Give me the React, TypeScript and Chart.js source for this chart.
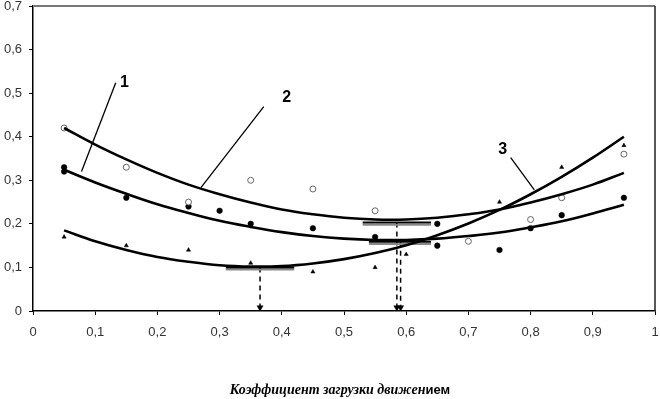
import React, { useEffect, useRef } from 'react';
import { Chart, registerables } from 'chart.js';
Chart.register(...registerables);

// Fitted curves
const curveX = [0.05, 0.1, 0.15, 0.2, 0.25, 0.3, 0.35, 0.4, 0.45, 0.5, 0.55, 0.6, 0.65, 0.7, 0.75, 0.8, 0.85, 0.9, 0.95];
const curve1 = [0.324, 0.295, 0.269, 0.245, 0.225, 0.207, 0.193, 0.181, 0.172, 0.166, 0.163, 0.163, 0.166, 0.172, 0.180, 0.192, 0.206, 0.224, 0.244];
const curve2 = [0.420, 0.382, 0.348, 0.317, 0.290, 0.268, 0.249, 0.233, 0.222, 0.214, 0.210, 0.210, 0.214, 0.222, 0.233, 0.249, 0.268, 0.290, 0.317];
const curve3 = [0.185, 0.160, 0.140, 0.124, 0.113, 0.105, 0.102, 0.103, 0.109, 0.119, 0.133, 0.151, 0.174, 0.201, 0.232, 0.268, 0.308, 0.352, 0.400];

// Measured points
const openX = [0.05, 0.15, 0.25, 0.35, 0.45, 0.55, 0.70, 0.80, 0.85, 0.95];
const openY = [0.42, 0.33, 0.25, 0.30, 0.28, 0.23, 0.16, 0.21, 0.26, 0.36];
const filledX = [0.05, 0.05, 0.15, 0.25, 0.30, 0.35, 0.45, 0.55, 0.65, 0.65, 0.75, 0.80, 0.85, 0.95];
const filledY = [0.32, 0.33, 0.26, 0.24, 0.23, 0.20, 0.19, 0.17, 0.20, 0.15, 0.14, 0.19, 0.22, 0.26];
const triX = [0.05, 0.15, 0.25, 0.35, 0.45, 0.55, 0.60, 0.75, 0.85, 0.95];
const triY = [0.17, 0.15, 0.14, 0.11, 0.09, 0.10, 0.13, 0.25, 0.33, 0.38];

// Minimum markers (horizontal bars) and dashed drop lines
const markerY = [0.100, 0.203, 0.159];
const markerX0 = [0.31, 0.53, 0.54];
const markerX1 = [0.42, 0.64, 0.64];
const dropX = [0.365, 0.585, 0.591];
const dropTop = [0.100, 0.203, 0.159];

// Curve labels and pointer lines
const labelText = ['1', '2', '3'];
const labelX = [0.147, 0.408, 0.755];
const labelY = [0.524, 0.49, 0.37];
const pointerX0 = [0.133, 0.371, 0.768];
const pointerY0 = [0.524, 0.469, 0.352];
const pointerX1 = [0.078, 0.270, 0.806];
const pointerY1 = [0.320, 0.283, 0.278];

const yTicks = [0, 0.1, 0.2, 0.3, 0.4, 0.5, 0.6, 0.7];
const titleMain = 'Коэффициент загрузки движен';
const titleTail = 'ием';

const fmt = (v: number) => {
  const r = Math.round(v * 10) / 10;
  if (r === 0) return '0';
  if (r === 1) return '1';
  return r.toFixed(1).replace('.', ',');
};

const pts = (xs: number[], ys: number[]) => xs.map((x, i) => ({ x, y: ys[i] }));

export default function App() {
  const ref = useRef<HTMLCanvasElement>(null);
  useEffect(() => {
    const canvas = ref.current!;
    const datasets: any[] = [];
    const curve = (ys: number[]) => ({
      data: pts(curveX, ys),
      showLine: true,
      borderColor: '#000',
      borderWidth: 2.6,
      pointRadius: 0,
      tension: 0.4,
      fill: false,
    });
    datasets.push(curve(curve1), curve(curve2), curve(curve3));
    datasets.push({
      data: pts(openX, openY),
      pointStyle: 'circle',
      pointRadius: 3,
      borderColor: '#666',
      backgroundColor: '#fff',
      borderWidth: 1,
    });
    datasets.push({
      data: pts(filledX, filledY),
      pointStyle: 'circle',
      pointRadius: 2.8,
      borderColor: '#000',
      backgroundColor: '#000',
      borderWidth: 0.5,
    });
    datasets.push({
      data: pts(triX, triY),
      pointStyle: 'triangle',
      pointRadius: 2.4,
      borderColor: '#000',
      backgroundColor: '#000',
      borderWidth: 0.5,
    });
    markerY.forEach((y, i) => {
      datasets.push({
        data: [{ x: markerX0[i], y }, { x: markerX1[i], y }],
        showLine: true,
        borderColor: '#000',
        borderWidth: 2,
        pointRadius: 0,
      });
      datasets.push({
        data: [{ x: markerX0[i], y: y - 0.005 }, { x: markerX1[i], y: y - 0.005 }],
        showLine: true,
        borderColor: '#888',
        borderWidth: 2,
        pointRadius: 0,
      });
    });
    dropX.forEach((x, i) => {
      datasets.push({
        data: [{ x, y: dropTop[i] }, { x, y: 0.008 }],
        showLine: true,
        borderColor: '#000',
        borderWidth: 1.5,
        borderDash: [5, 4],
        pointRadius: [0, 4],
        pointStyle: 'triangle',
        rotation: 180,
        pointBackgroundColor: '#000',
        pointBorderColor: '#000',
        pointBorderWidth: 0,
      });
    });
    labelText.forEach((_, i) => {
      datasets.push({
        data: [{ x: pointerX0[i], y: pointerY0[i] }, { x: pointerX1[i], y: pointerY1[i] }],
        showLine: true,
        borderColor: '#000',
        borderWidth: 1.3,
        pointRadius: 0,
      });
    });

    const framePlugin = {
      id: 'frame',
      afterDatasetsDraw(chart: any) {
        const { ctx, chartArea: a } = chart;
        ctx.save();
        ctx.strokeStyle = '#777';
        ctx.lineWidth = 2;
        ctx.beginPath();
        ctx.moveTo(a.left, a.top);
        ctx.lineTo(a.right, a.top);
        ctx.stroke();
        ctx.strokeStyle = '#222';
        ctx.lineWidth = 1.5;
        ctx.beginPath();
        ctx.moveTo(a.right, a.top);
        ctx.lineTo(a.right, a.bottom);
        ctx.stroke();
        ctx.restore();
      },
    };

    const textPlugin = {
      id: 'texts',
      afterDraw(chart: any) {
        const { ctx, scales, chartArea: a } = chart;
        ctx.save();
        ctx.fillStyle = '#000';
        ctx.font = 'bold 16px "Liberation Sans", Arial, sans-serif';
        ctx.textAlign = 'center';
        ctx.textBaseline = 'middle';
        labelText.forEach((t, i) => {
          ctx.fillText(t, scales.x.getPixelForValue(labelX[i]), scales.y.getPixelForValue(labelY[i]));
        });
        // axis title
        const f1 = 'bold italic 14px "Liberation Serif", "Times New Roman", serif';
        const f2 = 'bold 13px "Liberation Sans", Arial, sans-serif';
        ctx.font = f1;
        const w1 = ctx.measureText(titleMain).width;
        ctx.font = f2;
        const w2 = ctx.measureText(titleTail).width;
        const cx = (a.left + a.right) / 2 - 4;
        const x0 = cx - (w1 + w2) / 2;
        ctx.textAlign = 'left';
        ctx.textBaseline = 'alphabetic';
        ctx.font = f1;
        ctx.fillText(titleMain, x0, 394);
        ctx.font = f2;
        ctx.fillText(titleTail, x0 + w1, 394);
        ctx.restore();
      },
    };

    const chart = new Chart(canvas, {
      type: 'scatter',
      data: { datasets },
      options: {
        animation: false,
        responsive: false,
        devicePixelRatio: 1,
        layout: { padding: 0 },
        plugins: { legend: { display: false }, tooltip: { enabled: false } },
        scales: {
          x: {
            type: 'linear',
            min: 0,
            max: 1,
            ticks: {
              stepSize: 0.1,
              callback: (v: any) => fmt(Number(v)),
              font: { family: '"Liberation Sans", Arial, sans-serif', size: 13 },
              color: '#333',
              padding: 10,
              maxRotation: 0,
            },
            grid: { drawOnChartArea: false, drawTicks: true, tickLength: 4, color: '#000', lineWidth: 1 },
            border: { display: true, color: '#000', width: 1.5 },
            afterFit: (s: any) => {
              s.height = 88;
              s.paddingLeft = 0;
              s.paddingRight = 0;
            },
          },
          y: {
            type: 'linear',
            min: 0,
            max: 0.7,
            afterBuildTicks: (s: any) => {
              s.ticks = yTicks.map((v) => ({ value: v }));
            },
            ticks: {
              callback: (v: any) => fmt(Number(v)),
              font: { family: '"Liberation Sans", Arial, sans-serif', size: 13 },
              color: '#333',
              padding: 7,
            },
            grid: { drawOnChartArea: false, drawTicks: true, tickLength: 4, color: '#000', lineWidth: 1 },
            border: { display: true, color: '#000', width: 1.5 },
            afterFit: (s: any) => {
              s.width = 33;
              s.paddingTop = 6;
              s.paddingBottom = 0;
            },
          },
        },
      },
      plugins: [framePlugin, textPlugin],
    } as any);
    return () => chart.destroy();
  }, []);
  return (
    <div style={{ position: 'absolute', left: 0, top: 0, width: 660, height: 399, background: '#fff' }}>
      <canvas ref={ref} width={660} height={399} />
    </div>
  );
}
